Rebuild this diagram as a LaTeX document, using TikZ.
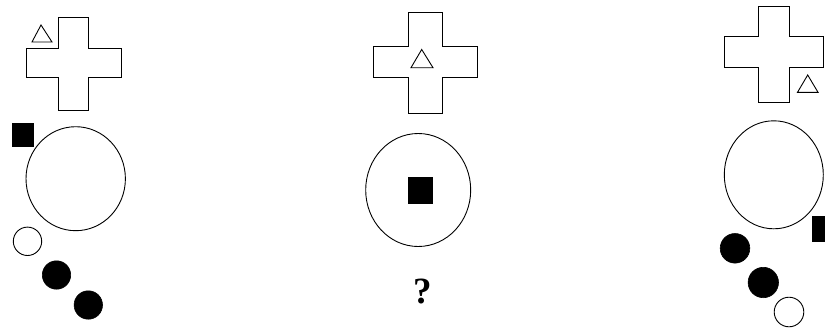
\documentclass[tikz,border=0pt]{standalone}
\usepackage{fontspec}
\setmainfont{Liberation Serif}
\begin{document}
\begin{tikzpicture}[x=1pt,y=-1pt,
  outline/.style={draw=black,line width=0.9pt,fill=white},
  solid fill/.style={fill=black,draw=black,line width=0.6pt},
  pic cross/.style={outline,line join=miter}]
\useasboundingbox (0,0) rectangle (825,327);
% ---- left panel ----
\draw[pic cross] (58,17) -- (88,17) -- (88,48) -- (121,48) -- (121,77) -- (88,77) -- (88,110) -- (58,110) -- (58,77) -- (26,77) -- (26,48) -- (58,48) -- cycle;
\draw[outline] (41,25) -- (52,42) -- (32,42) -- cycle;
\fill[solid fill] (12,123) rectangle (33,146);
\draw[outline] (75.7,178.7) ellipse [x radius=49.7, y radius=52];
\draw[outline] (27.5,241.3) circle [radius=14.2];
\draw[solid fill] (56.5,275) circle [radius=14.2];
\draw[solid fill] (88.3,305) circle [radius=14.2];
% ---- middle panel ----
\draw[pic cross] (408,12) -- (442,12) -- (442,46) -- (477,46) -- (477,77) -- (442,77) -- (442,113) -- (408,113) -- (408,77) -- (373,77) -- (373,46) -- (408,46) -- cycle;
\draw[outline] (421.7,49.5) -- (433,67.7) -- (411,67.7) -- cycle;
\draw[outline] (418.2,190) ellipse [x radius=52.5, y radius=56.5];
\fill[solid fill] (408,177) rectangle (432,203);
\node (q) at (423,291.5) {\fontsize{37}{40}\selectfont\bfseries ?};
% ---- right panel ----
\draw[pic cross] (758,6) -- (789,6) -- (789,36) -- (823,36) -- (823,67) -- (789,67) -- (789,102) -- (758,102) -- (758,67) -- (724,67) -- (724,36) -- (758,36) -- cycle;
\draw[outline] (807.7,75) -- (818,92.3) -- (797.5,92.3) -- cycle;
\draw[outline] (773.8,174.8) ellipse [x radius=49.5, y radius=54];
\fill[solid fill] (812.3,216.7) rectangle (830,241.7);
\draw[solid fill] (735,248.3) circle [radius=14.8];
\draw[solid fill] (763.3,282.5) circle [radius=15.2];
\draw[outline] (789,312) circle [radius=14.8];
\end{tikzpicture}
\end{document}
